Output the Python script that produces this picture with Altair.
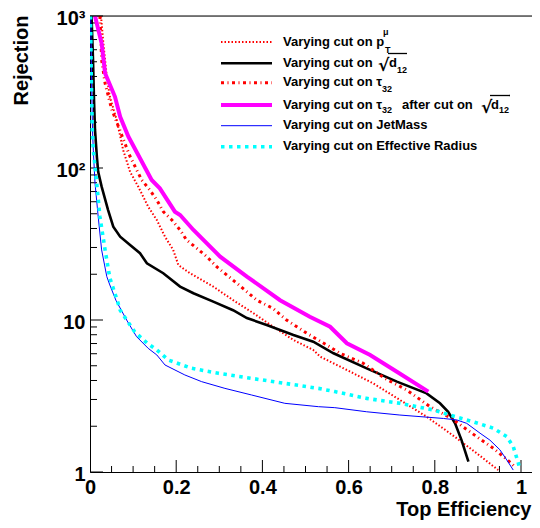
import altair as alt
import pandas as pd

# ---------------- data ----------------
pt_x = [0.0255, 0.031, 0.039, 0.046, 0.062, 0.077, 0.093, 0.112, 0.135, 0.155, 0.174, 0.193, 0.205,
        0.232, 0.286, 0.332, 0.379, 0.425, 0.472, 0.518, 0.534, 0.596, 0.657, 0.719, 0.781, 0.835,
        0.897, 0.947]
pt_y = [1000, 661, 399, 294, 207, 131, 94.3, 75.4, 55.6, 45.5, 35.3, 28.9, 23.0,
        20.3, 16.6, 13.5, 11.1, 9.03, 7.39, 6.35, 5.74, 4.69, 3.83, 2.98, 2.31, 1.80,
        1.33, 1.03]

d12_x = [0.0035, 0.007, 0.0093, 0.0116, 0.016, 0.019, 0.027, 0.042, 0.054, 0.070, 0.093, 0.116,
         0.132, 0.170, 0.209, 0.240, 0.286, 0.332, 0.364, 0.410, 0.472, 0.518, 0.565, 0.642,
         0.712, 0.781, 0.812, 0.831, 0.847, 0.862, 0.878]
d12_y = [1000, 514, 280, 178, 118, 94.3, 75.4, 52.9, 41.1, 35.3, 31.1, 27.5,
         23.6, 20.3, 16.6, 15.0, 13.2, 11.6, 10.3, 9.27, 7.96, 7.20, 6.04, 4.81,
         3.93, 3.29, 2.83, 2.49, 2.09, 1.62, 1.17]

tau_x = [0.023, 0.027, 0.035, 0.050, 0.066, 0.081, 0.093, 0.120, 0.139, 0.155, 0.170, 0.190,
         0.209, 0.224, 0.248, 0.271, 0.294, 0.317, 0.336, 0.360, 0.387, 0.425, 0.456, 0.503,
         0.549, 0.580, 0.634, 0.684, 0.735, 0.789, 0.839, 0.886, 0.936, 0.978, 0.986]
tau_y = [1000, 514, 361, 245, 187, 145, 119, 83.4, 71.6, 61.6, 51.6, 45.5,
         39.1, 33.6, 29.6, 26.1, 22.4, 19.8, 17.9, 15.7, 13.5, 11.9, 10.0, 8.18,
         6.85, 6.04, 5.19, 4.13, 3.46, 2.69, 2.25, 1.80, 1.43, 1.14, 1.08]

taud_x = [0.0116, 0.027, 0.035, 0.058, 0.070, 0.089, 0.116, 0.143, 0.162, 0.197, 0.209, 0.240,
          0.302, 0.364, 0.441, 0.510, 0.557, 0.596, 0.650, 0.712, 0.785]
taud_y = [1000, 661, 420, 294, 217, 161, 116, 83.4, 73.5, 51.6, 49.1, 39.1,
          26.1, 19.3, 13.5, 10.5, 9.03, 7.03, 5.89, 4.57, 3.38]

jm_x = [0.0016, 0.0035, 0.0058, 0.0077, 0.0116, 0.019, 0.027, 0.039, 0.046, 0.060, 0.085, 0.108,
        0.135, 0.155, 0.174, 0.220, 0.259, 0.313, 0.375, 0.452, 0.530, 0.568, 0.642, 0.719,
        0.820, 0.851, 0.874, 0.905, 0.928, 0.951, 0.967, 0.982]
jm_y = [1000, 379, 178, 131, 79.6, 47.8, 28.9, 19.3, 17.0, 13.5, 10.0, 7.77,
        6.51, 5.89, 5.06, 4.35, 3.93, 3.55, 3.21, 2.83, 2.69, 2.65, 2.49, 2.37,
        2.25, 2.20, 2.09, 1.80, 1.62, 1.40, 1.20, 1.03]

er_x = [0.0012, 0.003, 0.0053, 0.0077, 0.0155, 0.023, 0.035, 0.046, 0.063, 0.070, 0.085, 0.104,
        0.132, 0.155, 0.182, 0.236, 0.298, 0.375, 0.452, 0.530, 0.568, 0.642, 0.719, 0.797,
        0.835, 0.889, 0.936, 0.967, 0.982, 0.994, 0.996]
er_y = [1000, 379, 178, 131, 79.6, 47.8, 28.9, 18.9, 13.5, 11.6, 10.0, 8.34,
        7.06, 6.35, 5.45, 4.81, 4.46, 4.13, 3.83, 3.55, 3.38, 3.05, 2.83, 2.56,
        2.37, 2.14, 1.94, 1.71, 1.47, 1.14, 1.07]

x_label_values = [0, 0.2, 0.4, 0.6, 0.8, 1.0]
x_major_ticks = [0.2, 0.4, 0.6, 0.8, 1.0]
x_minor_ticks = [0.05, 0.1, 0.15, 0.25, 0.3, 0.35, 0.45, 0.5, 0.55, 0.65, 0.7, 0.75,
                 0.85, 0.9, 0.95]
y_label_values = [1, 10, 100, 1000]
y_minor_ticks = [2, 3, 4, 5, 6, 7, 8, 9, 20, 30, 40, 50, 60, 70, 80, 90,
                 200, 300, 400, 500, 600, 700, 800, 900]

# ---------------- layout / styles ----------------
W, H = 442, 456
X_MAX = W / 431
FONT = "Liberation Sans"

xs = alt.Scale(domain=[0, X_MAX], nice=False, zero=False)
ys = alt.Scale(type="log", domain=[1, 1000], nice=False)

x_axis = alt.Axis(
    values=x_label_values,
    labelExpr="datum.value == 0 ? '0' : datum.value == 1 ? '1' : format(datum.value, '.1f')",
    labelFont=FONT, labelFontWeight="bold", labelFontSize=20, labelColor="black",
    labelPadding=5, labelFlush=False, labelOverlap=False,
    ticks=False, grid=False, domainColor="black", domainWidth=1,
    title="Top Efficiency", titleFont=FONT, titleFontWeight="bold", titleFontSize=20,
    titleColor="black", titleX=W - 1, titleY=43.5, titleAlign="right", titleBaseline="alphabetic",
)
y_axis = alt.Axis(
    values=y_label_values,
    labelExpr="datum.value == 1000 ? '10³' : datum.value == 100 ? '10²' : datum.value == 10 ? '10' : '1'",
    labelFont=FONT, labelFontWeight="bold", labelFontSize=20, labelColor="black",
    labelPadding=5, labelOffset=2.5, labelFlush=False, labelOverlap=False,
    ticks=False, grid=False, domainColor="black", domainWidth=1,
    title="Rejection", titleFont=FONT, titleFontWeight="bold", titleFontSize=20,
    titleColor="black", titleAngle=270, titleX=-62.5, titleY=-1, titleAlign="right",
    titleBaseline="alphabetic",
)

X = alt.X("x:Q", scale=xs, axis=x_axis)
Y = alt.Y("y:Q", scale=ys, axis=y_axis)

layers = []

# inward ticks (ROOT style)
layers.append(alt.Chart(pd.DataFrame({"x": x_major_ticks})).mark_rule(color="black", strokeWidth=1)
              .encode(x=X, y=alt.value(H), y2=alt.value(H - 12)))
layers.append(alt.Chart(pd.DataFrame({"x": x_minor_ticks})).mark_rule(color="black", strokeWidth=1)
              .encode(x=X, y=alt.value(H), y2=alt.value(H - 6)))
layers.append(alt.Chart(pd.DataFrame({"y": y_label_values})).mark_rule(color="black", strokeWidth=1)
              .encode(y=Y, x=alt.value(0), x2=alt.value(13)))
layers.append(alt.Chart(pd.DataFrame({"y": y_minor_ticks})).mark_rule(color="black", strokeWidth=1)
              .encode(y=Y, x=alt.value(0), x2=alt.value(7)))

styles = [
    # (name, xs, ys, color, width, dash)
    ("pt", pt_x, pt_y, "#ff0000", 2.0, [1.5, 2]),
    ("d12", d12_x, d12_y, "#000000", 2.6, None),
    ("tau", tau_x, tau_y, "#ff0000", 3.0, [3, 3.5, 1, 3.5]),
    ("taud", taud_x, taud_y, "#ff00ff", 4.0, None),
    ("jm", jm_x, jm_y, "#0000ff", 1.0, None),
    ("er", er_x, er_y, "#00ffff", 3.6, [3.5, 4.5]),
]

for name, sx, sy, col, wdt, dash in styles:
    df = pd.DataFrame({"x": sx, "y": sy, "i": list(range(len(sx)))})
    kw = dict(color=col, strokeWidth=wdt, clip=True, strokeCap="butt")
    if dash:
        kw["strokeDash"] = dash
    layers.append(alt.Chart(df).mark_line(**kw).encode(x=X, y=Y, order=alt.Order("i:Q")))

# top frame line
one = pd.DataFrame({"a": [0]})
layers.append(alt.Chart(one).mark_rule(color="black", strokeWidth=1)
              .encode(x=alt.value(0), x2=alt.value(W), y=alt.value(0)))

# ---------------- legend ----------------
legend_labels = ["Varying cut on p", "Varying cut on", "Varying cut on τ", "Varying cut on τ",
                 "Varying cut on JetMass", "Varying cut on Effective Radius"]
row_line_y = [26, 47.3, 66.7, 89, 109.7, 130.7]
row_base_y = [29.5, 50.8, 70.2, 92.5, 113.2, 134.2]

for (name, sx, sy, col, wdt, dash), ly in zip(styles, row_line_y):
    kw = dict(color=col, strokeWidth=wdt, strokeCap="butt")
    if dash:
        kw["strokeDash"] = dash
    layers.append(alt.Chart(one).mark_rule(**kw)
                  .encode(x=alt.value(131), x2=alt.value(182), y=alt.value(ly)))


def txt(t, x, y, size=13, font=FONT):
    return (alt.Chart(one).mark_text(text=t, font=font, fontWeight="bold", fontSize=size,
                                     color="black", align="left", baseline="alphabetic")
            .encode(x=alt.value(x), y=alt.value(y)))


for lab, by in zip(legend_labels, row_base_y):
    layers.append(txt(lab, 193, by))

# sub/superscripts and roots
layers.append(txt("μ", 293, 18.5, 9))
layers.append(txt("T", 295, 37, 9))
layers.append(txt("√", 288, 55, 17, "DejaVu Sans"))
layers.append(txt("d", 299, row_base_y[1]))
layers.append(txt("12", 307, 56.7, 9))
layers.append(txt("32", 292, 75.7, 9))
layers.append(txt("32", 292, 97.3, 9))
layers.append(txt("after cut on", 312, row_base_y[3]))
layers.append(txt("√", 391, 96.8, 17, "DejaVu Sans"))
layers.append(txt("d", 401, row_base_y[3]))
layers.append(txt("12", 409, 96.7, 9))
layers.append(alt.Chart(one).mark_rule(color="black", strokeWidth=1.3)
              .encode(x=alt.value(298), x2=alt.value(317), y=alt.value(37.5)))
layers.append(alt.Chart(one).mark_rule(color="black", strokeWidth=1.3)
              .encode(x=alt.value(400), x2=alt.value(420), y=alt.value(79.5)))

chart = (alt.layer(*layers)
         .properties(width=W, height=H,
                     autosize=alt.AutoSizeParams(type="none"),
                     padding={"left": 82, "top": 8, "right": 0, "bottom": 48})
         .configure_view(stroke=None)
         .configure(background="white"))

chart.save("out.html", embed_options={"renderer": "svg", "actions": False})
